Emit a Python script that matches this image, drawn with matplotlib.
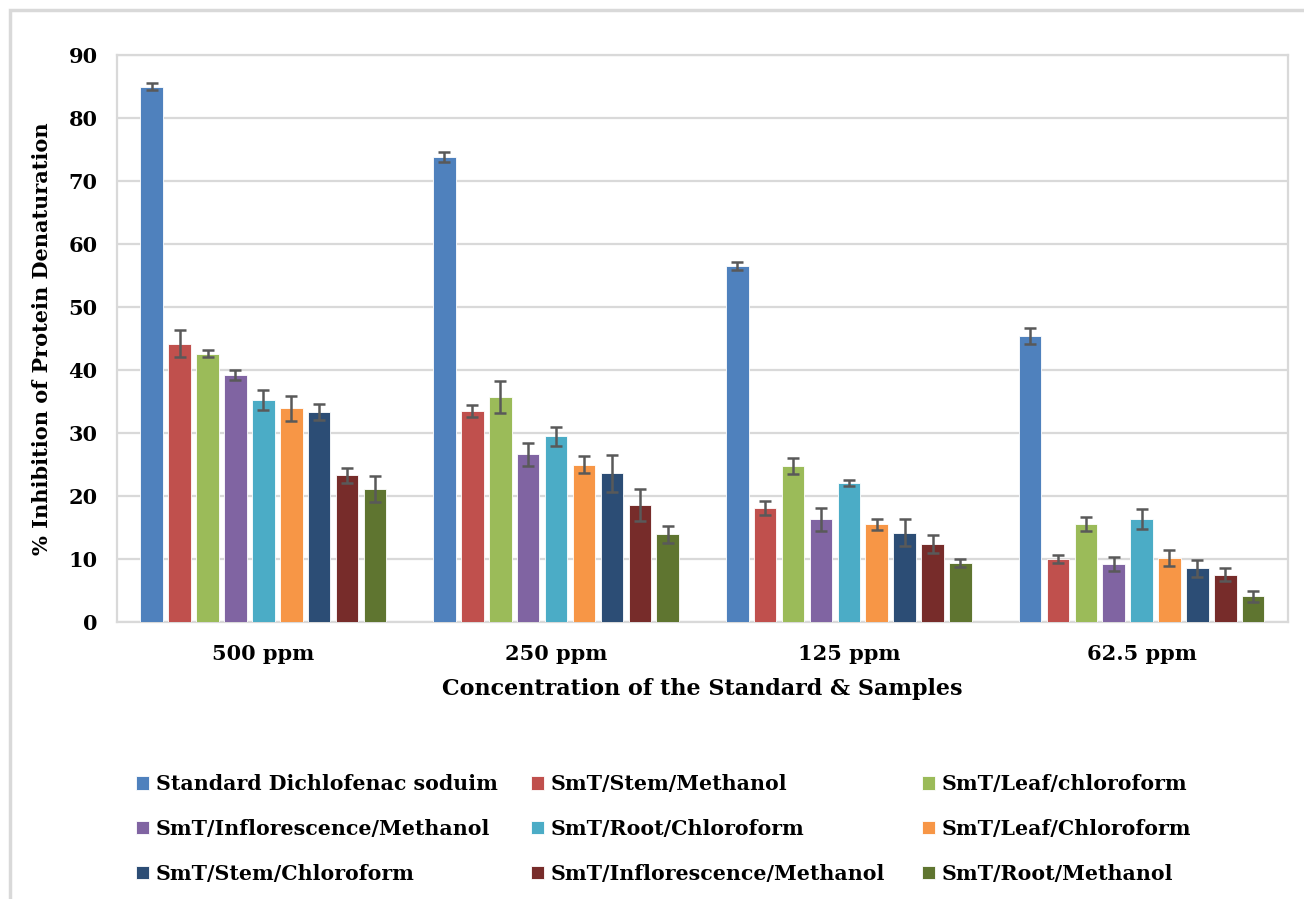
import numpy as np
import matplotlib.pyplot as plt
from matplotlib.patches import Rectangle

# Concentrations (categories)
concentrations = ['500 ppm', '250 ppm', '125 ppm', '62.5 ppm']

# Series names (legend order, row-major in 3 columns)
series_names = [
    'Standard Dichlofenac soduim',
    'SmT/Stem/Methanol',
    'SmT/Leaf/chloroform',
    'SmT/Inflorescence/Methanol',
    'SmT/Root/Chloroform',
    'SmT/Leaf/Chloroform',
    'SmT/Stem/Chloroform',
    'SmT/Inflorescence/Methanol',
    'SmT/Root/Methanol',
]

# % inhibition per series, one value per concentration
standard = [85.0, 73.8, 56.5, 45.4]
stem_meoh = [44.2, 33.5, 18.1, 10.0]
leaf_chl = [42.6, 35.7, 24.8, 15.5]
inflo_meoh = [39.2, 26.6, 16.3, 9.2]
root_chl = [35.2, 29.5, 22.1, 16.4]
leaf_chl2 = [33.9, 25.0, 15.5, 10.2]
stem_chl = [33.3, 23.6, 14.2, 8.5]
inflo_meoh2 = [23.3, 18.6, 12.4, 7.5]
root_meoh = [21.1, 13.9, 9.4, 4.1]

# error bars (+/-)
standard_err = [0.5, 0.8, 0.6, 1.2]
stem_meoh_err = [2.2, 1.0, 1.1, 0.7]
leaf_chl_err = [0.5, 2.6, 1.3, 1.1]
inflo_meoh_err = [0.8, 1.8, 1.8, 1.1]
root_chl_err = [1.6, 1.5, 0.5, 1.6]
leaf_chl2_err = [2.0, 1.4, 0.9, 1.3]
stem_chl_err = [1.3, 2.9, 2.1, 1.3]
inflo_meoh2_err = [1.2, 2.5, 1.4, 1.0]
root_meoh_err = [2.1, 1.3, 0.6, 0.9]

values = [standard, stem_meoh, leaf_chl, inflo_meoh, root_chl,
          leaf_chl2, stem_chl, inflo_meoh2, root_meoh]
errors = [standard_err, stem_meoh_err, leaf_chl_err, inflo_meoh_err, root_chl_err,
          leaf_chl2_err, stem_chl_err, inflo_meoh2_err, root_meoh_err]

colors = ['#4F81BD', '#C0504D', '#9BBB59', '#8064A2', '#4BACC6',
          '#F79646', '#2C4D75', '#772C2A', '#5F7530']

plt.rcParams['font.family'] = ['DejaVu Serif']
plt.rcParams['font.weight'] = 'bold'

fig = plt.figure(figsize=(13.04, 8.99), dpi=100)
ax = fig.add_axes([0.0897, 0.3081, 0.8980, 0.6307])

# outer chart border
fig.patches.append(Rectangle((10 / 1304, -0.05), 1.1, (889 + 0.05 * 899) / 899,
                             transform=fig.transFigure, fill=False,
                             edgecolor='#D9D9D9', linewidth=2.5, zorder=0))

x = np.arange(len(concentrations))
pitch = 0.0953
width = 0.077
handles = []
for i, (vals, errs, c) in enumerate(zip(values, errors, colors)):
    pos = x + (i - 4) * pitch
    b = ax.bar(pos, vals, width, color=c, edgecolor='white', linewidth=0.6,
               label=series_names[i], zorder=3)
    ax.errorbar(pos, vals, yerr=errs, fmt='none', ecolor='#595959',
                elinewidth=1.8, capsize=4.5, capthick=1.8, zorder=4)
    handles.append(b)

ax.set_xlim(-0.5, 3.5)
ax.set_ylim(0, 90)
ax.set_yticks(range(0, 91, 10))
ax.set_xticks(x)
ax.set_xticklabels(concentrations)
ax.tick_params(axis='both', length=0, labelsize=15)
ax.tick_params(axis='y', pad=14)
ax.tick_params(axis='x', pad=16)
ax.grid(axis='y', color='#D9D9D9', linewidth=1.6, zorder=0)
for s in ax.spines.values():
    s.set_color('#D9D9D9')
    s.set_linewidth(1.6)

ax.set_ylabel('% Inhibition of Protein Denaturation', fontsize=15, fontweight='bold', labelpad=12)
ax.set_xlabel('Concentration of the Standard & Samples', fontsize=16, fontweight='bold', labelpad=10)

# legend: three columns placed separately
col_x = [128 / 1304, 523 / 1304, 914 / 1304]
for col in range(3):
    idx = [col, col + 3, col + 6]
    leg = fig.legend([handles[k] for k in idx], [series_names[k] for k in idx],
                     loc='upper left', bbox_to_anchor=(col_x[col], 1 - 766 / 899),
                     frameon=False, fontsize=14.8, handlelength=0.6, handleheight=0.6,
                     handletextpad=0.35, labelspacing=1.2, borderaxespad=0)

fig.savefig('out.png', dpi=100)
